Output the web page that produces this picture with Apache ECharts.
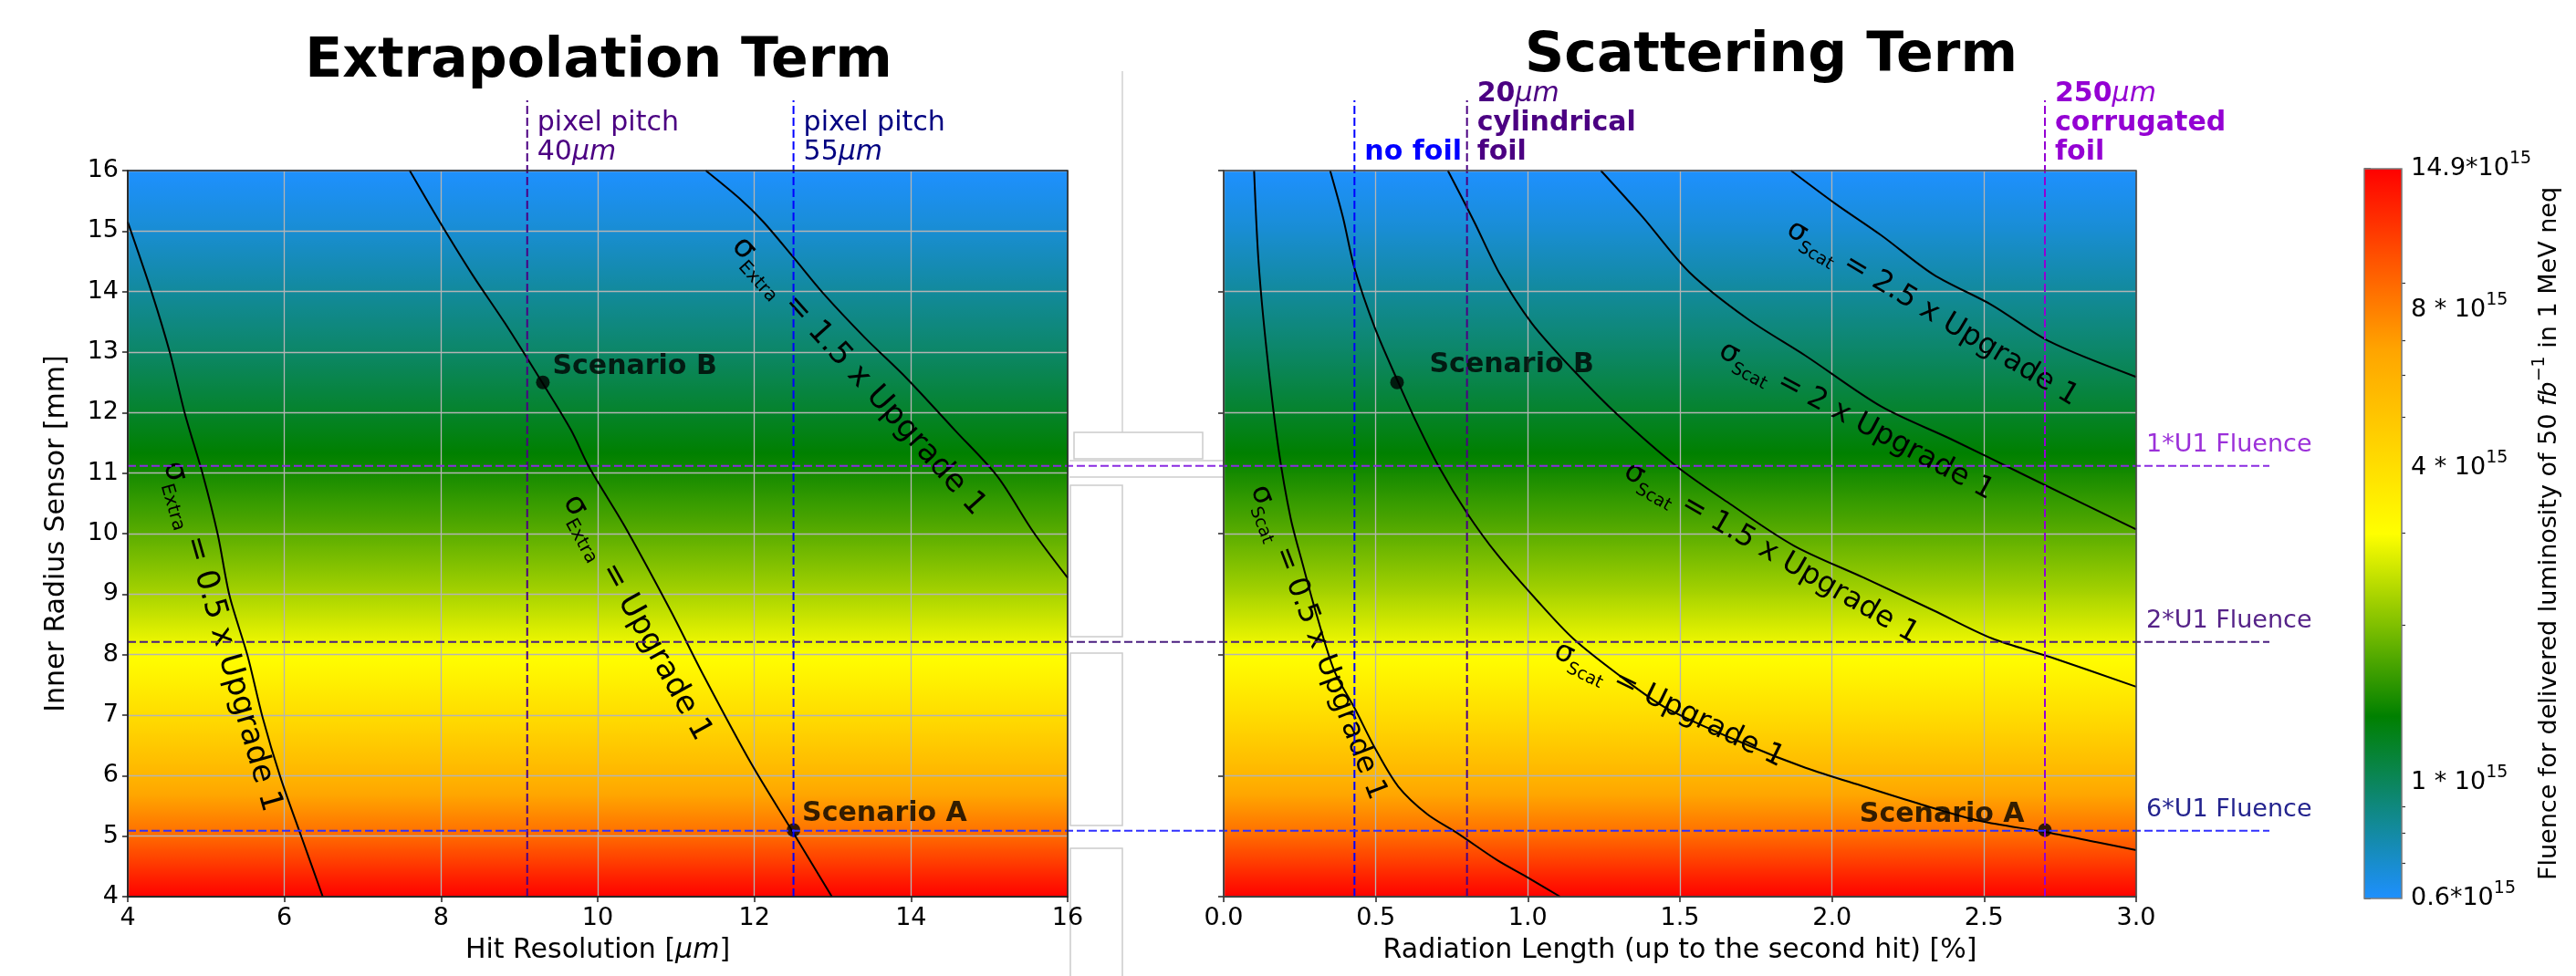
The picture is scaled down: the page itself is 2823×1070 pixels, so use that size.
<!DOCTYPE html>
<html><head><meta charset="utf-8">
<script src="https://cdn.jsdelivr.net/npm/echarts@6/dist/echarts.min.js"></script>
<style>html,body{margin:0;padding:0;background:#fff}#c{width:2823px;height:1070px}</style>
</head><body><div id="c"></div>
<script>
// ---------------- data ----------------
// fluence (x10^15 neq) seen as background colour, versus inner radius [mm]
const bgRadius  = [4, 5, 6, 7, 8, 9, 10, 11, 12, 13, 14, 15, 16];
const bgFluence = [14.9, 8.9, 5.8, 4.07, 2.98, 2.27, 1.78, 1.43, 1.17, 0.97, 0.82, 0.69, 0.6];

// Extrapolation term contours  [hit resolution um, radius mm]
const extraHalf = [[4.0,15.15],[4.31,13.97],[4.54,12.98],[4.73,11.98],[4.96,10.97],[5.15,9.98],[5.30,8.97],[5.53,7.98],[5.72,6.97],[5.95,5.97],[6.22,4.98],[6.49,4.0]];
const extraOne  = [[7.60,16.0],[7.98,15.16],[8.40,14.28],[8.82,13.47],[9.30,12.48],[9.66,11.71],[9.89,11.10],[10.35,10.11],[10.93,8.73],[11.35,7.66],[11.96,6.20],[12.49,5.07],[12.99,4.0]];
const extraOneHalf = [[11.38,16.0],[11.81,15.54],[12.11,15.16],[12.49,14.58],[12.88,13.97],[13.41,13.24],[13.95,12.56],[14.56,11.71],[15.10,10.95],[15.56,10.03],[16.0,9.27]];

// Scattering term contours [radiation length %, radius mm]
const scatHalf = [[0.10,16.0],[0.115,14.47],[0.143,12.94],[0.18,11.41],[0.22,10.26],[0.26,9.49],[0.306,8.65],[0.364,7.73],[0.43,7.12],[0.50,6.43],[0.574,5.82],[0.67,5.36],[0.765,5.06],[0.90,4.6],[0.995,4.33],[1.106,4.0]];
const scatOne = [[0.35,16.0],[0.392,15.23],[0.43,14.39],[0.497,13.4],[0.574,12.5],[0.631,11.87],[0.708,11.1],[0.80,10.34],[0.90,9.65],[1.033,8.88],[1.148,8.27],[1.30,7.66],[1.454,7.12],[1.72,6.51],[1.913,6.13],[2.105,5.82],[2.296,5.52],[2.487,5.25],[2.698,5.07],[2.87,4.9],[3.0,4.77]];
const scatOneHalf = [[0.737,16.0],[0.823,15.16],[0.909,14.28],[1.014,13.47],[1.148,12.71],[1.30,11.94],[1.492,11.1],[1.665,10.49],[1.875,9.8],[2.105,9.27],[2.334,8.73],[2.525,8.27],[2.717,7.96],[3.0,7.47]];
const scatTwo = [[1.24,16.0],[1.378,15.23],[1.531,14.32],[1.722,13.55],[1.913,12.94],[2.162,12.1],[2.392,11.56],[2.64,10.95],[3.0,10.07]];
const scatTwoHalf = [[1.865,16.0],[2.009,15.46],[2.162,14.93],[2.334,14.28],[2.525,13.78],[2.717,13.17],[3.0,12.59]];

// contour label anchors [x, y, angle deg]
const extraLabelPos  = [[5.20,8.30,-74],[10.50,8.61,-61],[13.33,12.60,-48]];
const extraLabelText = ['0.5 x Upgrade 1','Upgrade 1','1.5 x Upgrade 1'];
const scatLabelPos   = [[0.31,8.20,-69],[1.464,7.17,-26],[1.80,9.68,-30],[2.08,11.86,-28],[2.33,13.64,-31]];
const scatLabelText  = ['0.5 x Upgrade 1','Upgrade 1','1.5 x Upgrade 1','2 x Upgrade 1','2.5 x Upgrade 1'];

// scenarios
const scenarioNames = ['Scenario B','Scenario A'];
const scenExtra = [[9.3,12.5],[12.5,5.1]];
const scenScat  = [[0.57,12.5],[2.7,5.1]];

// reference lines
const fluenceLevels = [11.12, 8.21, 5.09];
const fluenceLabels = ['1*U1 Fluence','2*U1 Fluence','6*U1 Fluence'];
const pitchX = [9.1, 12.5];
const pitchLabels = [['pixel pitch','40{i|μm}'],['pixel pitch','55{i|μm}']];
const foilX = [0.43, 0.80, 2.7];
const foilLabels = [['{b|no foil}'],['{b|20}{i|μm}','{b|cylindrical}','{b|foil}'],['{b|250}{i|μm}','{b|corrugated}','{b|foil}']];

// colour bar
const cbMin = 0.6, cbMax = 14.9;
const cbTicks = [0.6, 1, 4, 8, 14.9];
const cbTickLabels = ['0.6*10','1 * 10','4 * 10','8 * 10','14.9*10'];
const cbMinor = [0.7, 0.8, 0.9, 2, 3, 5, 6, 7, 9];

const xTicksExtra = {min:4, max:16, interval:2};
const yTicks = {min:4, max:16};

// ---------------- styling ----------------
const FONT = 'DejaVu Sans';
const C_PURPLE = '#9400D3', C_INDIGO = '#4B0082', C_BLUE = '#0000FF', C_NAVY = '#000080';
const fluenceLineColors = ['#8A2BE2', '#4B1F80', '#3030FF'];
const fluenceTextColors = ['#9B30D9', '#552288', '#23238E'];
const pitchLineColors = [C_INDIGO, C_BLUE];
const pitchTextColors = [C_INDIGO, C_NAVY];
const foilColors = [C_BLUE, C_INDIGO, C_PURPLE];
const V_TOP = 110, LABEL_LAST = 167, LABEL_STEP = 32, H_END = 2487, H_TEXT_X = 2352;

const cmapStops = [[0,[30,144,255]],[0.25,[0,128,0]],[0.5,[255,255,0]],[0.75,[255,165,0]],[1,[255,0,0]]];
const LMIN = Math.log(cbMin), LMAX = Math.log(cbMax);
function cmap(t){
  t = Math.max(0, Math.min(1, t));
  for (let i = 1; i < cmapStops.length; i++) {
    if (t <= cmapStops[i][0] + 1e-12) {
      const a = cmapStops[i-1], b = cmapStops[i];
      const u = (t - a[0]) / (b[0] - a[0]);
      const c = a[1].map((v,k) => Math.round(v + (b[1][k] - v) * u));
      return 'rgb(' + c.join(',') + ')';
    }
  }
  return 'rgb(255,0,0)';
}
const fluColor = lf => cmap((lf - LMIN) / (LMAX - LMIN));

function bgData(xMin){
  return bgRadius.slice(0,-1).map((r,i) => [xMin, r, bgRadius[i+1], bgFluence[i], bgFluence[i+1]]);
}
function bgRender(xMin, xMax){
  return function(params, api){
    const r0 = api.value(1), r1 = api.value(2), f0 = api.value(3), f1 = api.value(4);
    const pT = api.coord([xMin, r1]), pB = api.coord([xMax, r0]);
    const stops = [], N = 12;
    for (let k = 0; k <= N; k++) {
      const t = k / N;
      const lf = Math.log(f1) + (Math.log(f0) - Math.log(f1)) * t;
      stops.push({offset: t, color: fluColor(lf)});
    }
    return {type:'rect', silent:true,
      shape:{x:pT[0], y:pT[1]-0.6, width:pB[0]-pT[0], height:pB[1]-pT[1]+1.2},
      style:{fill:new echarts.graphic.LinearGradient(0,0,0,1,stops)}};
  };
}
function frameRender(x0,x1,y0,y1,color){
  return function(params, api){
    const a = api.coord([x0,y1]), b = api.coord([x1,y0]);
    return {type:'rect', silent:true, shape:{x:a[0], y:a[1], width:b[0]-a[0], height:b[1]-a[1]},
      style:{fill:'none', stroke:color, lineWidth:1.5}};
  };
}
function contourRich(fs){
  const sub = Math.round(fs * 0.6), lh = Math.round(fs * 1.35);
  return {
    s:{fontSize:fs, fontFamily:FONT, lineHeight:lh, verticalAlign:'middle', color:'#000'},
    u:{fontSize:sub, fontFamily:FONT, lineHeight:sub + 2, verticalAlign:'bottom', color:'#000'},
    m:{fontSize:fs, fontFamily:FONT, lineHeight:lh, verticalAlign:'middle', color:'#000'}
  };
}
function labelRender(sub, texts, fs){
  const rich = contourRich(fs);
  return function(params, api){
    const p = api.coord([api.value(0), api.value(1)]);
    return {type:'text', x:p[0], y:p[1], rotation: api.value(2) * Math.PI / 180, silent:true,
      style:{text:'{s|σ}{u|' + sub + '}{m| = ' + texts[params.dataIndex] + '}', rich:rich,
        align:'center', verticalAlign:'middle', textAlign:'center', textVerticalAlign:'middle', fill:'#000'}};
  };
}
function lineSeries(data, gi){
  return {type:'line', xAxisIndex:gi, yAxisIndex:gi, data:data, showSymbol:false, symbol:'none',
    smooth:0.3, lineStyle:{color:'#000', width:2}, z:5, silent:true};
}
function vlineRender(lines, lineColors, textColors, richFn){
  return function(params, api){
    const i = params.dataIndex;
    const pb = api.coord([api.value(0), api.value(1)]);
    const ch = [{type:'line', shape:{x1:pb[0], y1:pb[1], x2:pb[0], y2:V_TOP},
      style:{stroke:lineColors[i], lineWidth:2, lineDash:[9,4]}}];
    const L = lines[i];
    L.forEach((t,k) => ch.push({type:'text', x:pb[0]+11, y:LABEL_LAST - (L.length-1-k)*LABEL_STEP,
      style:{text:t, rich:richFn(textColors[i]), fill:textColors[i], font:'30px "' + FONT + '"',
        align:'left', verticalAlign:'middle', textAlign:'left', textVerticalAlign:'middle'}}));
    return {type:'group', children:ch, silent:true};
  };
}
function richFor(color){
  return {
    b:{fontSize:30, fontWeight:'bold', fontFamily:FONT, color:color, lineHeight:32},
    i:{fontSize:30, fontStyle:'italic', fontFamily:FONT, color:color, lineHeight:32}
  };
}
function scenData(pts, cfg){
  return pts.map((p,i) => ({value:p, name:scenarioNames[i],
    label:{show:true, position:cfg[i].pos, distance:cfg[i].dist, offset:[0,cfg[i].dy], formatter:'{b}',
      fontSize:30, fontWeight:'bold', color:'#000', fontFamily:FONT}}));
}

const axisCommon = {
  axisLine:{show:true, lineStyle:{color:'#222', width:1.5}},
  axisTick:{show:true, inside:false, length:6, lineStyle:{color:'#222', width:1.5}},
  splitLine:{show:true, lineStyle:{color:'#b4b4b4', width:1.3}},
  nameTextStyle:{fontSize:30, fontFamily:FONT, color:'#000', rich:{i:{fontSize:30, fontStyle:'italic', fontFamily:FONT, color:'#000'}}},
  z:3
};
const labelCommon = {fontSize:27, fontFamily:FONT, color:'#000', margin:10};

const chart = echarts.init(document.getElementById('c'), null, {renderer:'canvas', width:2823, height:1070});
const log10 = Math.log10;

const option = {
  animation:false,
  backgroundColor:'#ffffff',
  textStyle:{fontFamily:FONT},
  grid:[
    {left:140, top:187, width:1030, height:796},
    {left:1341, top:187, width:1000, height:796},
    {left:2591, top:185, width:41, height:800}
  ],
  xAxis:[
    Object.assign({}, axisCommon, {gridIndex:0, type:'value', min:xTicksExtra.min, max:xTicksExtra.max, interval:xTicksExtra.interval,
      name:'Hit Resolution [{i|μm}]', nameLocation:'middle', nameGap:44,
      axisLabel:Object.assign({}, labelCommon)}),
    Object.assign({}, axisCommon, {gridIndex:1, type:'value', min:0, max:3, interval:0.5,
      name:'Radiation Length (up to the second hit) [%]', nameLocation:'middle', nameGap:44,
      axisLabel:Object.assign({}, labelCommon, {formatter: v => v.toFixed(1)})}),
    {gridIndex:2, type:'value', min:0, max:1, show:false}
  ],
  yAxis:[
    Object.assign({}, axisCommon, {gridIndex:0, type:'value', min:yTicks.min, max:yTicks.max, interval:1,
      name:'Inner Radius Sensor [mm]', nameLocation:'middle', nameGap:63, nameRotate:90,
      axisLabel:Object.assign({}, labelCommon)}),
    Object.assign({}, axisCommon, {gridIndex:1, type:'value', min:yTicks.min, max:yTicks.max, interval:2,
      axisLabel:{show:false}}),
    {gridIndex:2, type:'value', position:'right', min:log10(cbMin), max:log10(cbMax),
      axisLine:{show:false}, splitLine:{show:false},
      axisTick:{show:true, length:7, customValues:cbTicks.map(log10), lineStyle:{color:'#333', width:1.5}},
      axisLabel:{show:true, margin:10, customValues:cbTicks.map(log10),
        formatter: v => { const i = cbTicks.findIndex(t => Math.abs(log10(t) - v) < 1e-4); return i < 0 ? '' : '{b|' + cbTickLabels[i] + '}{p|15}'; },
        rich:{b:{fontSize:27, fontFamily:FONT, color:'#000', lineHeight:40, verticalAlign:'middle'},
              p:{fontSize:19, fontFamily:FONT, color:'#000', lineHeight:22, verticalAlign:'top'}}}},
    {gridIndex:2, type:'value', position:'right', min:log10(cbMin), max:log10(cbMax),
      axisLine:{show:false}, splitLine:{show:false}, axisLabel:{show:false},
      axisTick:{show:true, length:4, customValues:cbMinor.map(log10), lineStyle:{color:'#333', width:1.2}}}
  ],
  series:[
    {type:'custom', xAxisIndex:0, yAxisIndex:0, z:1, silent:true, data:bgData(4), renderItem:bgRender(4,16)},
    {type:'custom', xAxisIndex:1, yAxisIndex:1, z:1, silent:true, data:bgData(0), renderItem:bgRender(0,3)},
    {type:'custom', xAxisIndex:2, yAxisIndex:2, z:1, silent:true, data:[[0, log10(cbMin)]],
      renderItem:function(params, api){
        const a = api.coord([0, log10(cbMax)]), b = api.coord([1, log10(cbMin)]);
        const stops = [];
        for (let k = 0; k <= 40; k++) stops.push({offset:k/40, color:cmap(1 - k/40)});
        return {type:'rect', shape:{x:a[0], y:a[1], width:b[0]-a[0], height:b[1]-a[1]},
          style:{fill:new echarts.graphic.LinearGradient(0,0,0,1,stops), stroke:'#7a7a7a', lineWidth:1.5}};
      }},
    lineSeries(extraHalf,0), lineSeries(extraOne,0), lineSeries(extraOneHalf,0),
    lineSeries(scatHalf,1), lineSeries(scatOne,1), lineSeries(scatOneHalf,1), lineSeries(scatTwo,1), lineSeries(scatTwoHalf,1),
    {type:'custom', xAxisIndex:0, yAxisIndex:0, z:6, silent:true, data:extraLabelPos, renderItem:labelRender('Extra', extraLabelText, 34)},
    {type:'custom', xAxisIndex:1, yAxisIndex:1, z:6, silent:true, data:scatLabelPos, renderItem:labelRender('Scat', scatLabelText, 32)},
    {type:'scatter', xAxisIndex:0, yAxisIndex:0, z:7, symbolSize:15, itemStyle:{color:'#000'}, silent:true,
      data:scenData(scenExtra, [{pos:'right',dist:3,dy:-17},{pos:'right',dist:2,dy:-18}])},
    {type:'scatter', xAxisIndex:1, yAxisIndex:1, z:7, symbolSize:15, itemStyle:{color:'#000'}, silent:true,
      data:scenData(scenScat, [{pos:'right',dist:28,dy:-19},{pos:'left',dist:15,dy:-17}])},
    {type:'custom', xAxisIndex:0, yAxisIndex:0, z:8, silent:true, clip:false,
      data:pitchX.map(x => [x, 4]),
      renderItem:vlineRender(pitchLabels, pitchLineColors, pitchTextColors,
        c => ({i:{fontStyle:'italic', fontSize:30, fontFamily:FONT, color:c}}))},
    {type:'custom', xAxisIndex:1, yAxisIndex:1, z:8, silent:true, clip:false,
      data:foilX.map(x => [x, 4]),
      renderItem:vlineRender(foilLabels, foilColors, foilColors, richFor)},
    {type:'custom', xAxisIndex:0, yAxisIndex:0, z:8, silent:true, clip:false,
      data:fluenceLevels.map(y => [4, y]),
      renderItem:function(params, api){
        const i = params.dataIndex;
        const p = api.coord([api.value(0), api.value(1)]);
        return {type:'group', silent:true, children:[
          {type:'line', shape:{x1:p[0], y1:p[1], x2:H_END, y2:p[1]}, style:{stroke:fluenceLineColors[i], lineWidth:2, lineDash:[9,4]}},
          {type:'text', x:H_TEXT_X, y:p[1]-23, style:{text:fluenceLabels[i], fill:fluenceTextColors[i], font:'27px "' + FONT + '"',
            align:'left', verticalAlign:'middle', textAlign:'left', textVerticalAlign:'middle'}}
        ]};
      }},
    {type:'custom', xAxisIndex:0, yAxisIndex:0, z:10, silent:true, data:[[4,4]], renderItem:frameRender(4,16,4,16,'#222')},
    {type:'custom', xAxisIndex:1, yAxisIndex:1, z:10, silent:true, data:[[0,4]], renderItem:frameRender(0,3,4,16,'#444')}
  ],
  graphic:[
    {type:'text', x:656, y:68, silent:true, style:{text:'Extrapolation Term', font:'bold 60px "DejaVu Sans"', fill:'#000',
      align:'center', verticalAlign:'middle', textAlign:'center', textVerticalAlign:'middle'}},
    {type:'text', x:1941, y:62, silent:true, style:{text:'Scattering Term', font:'bold 60px "DejaVu Sans"', fill:'#000',
      align:'center', verticalAlign:'middle', textAlign:'center', textVerticalAlign:'middle'}},
    {type:'text', x:2794, y:585, rotation:Math.PI/2, silent:true, style:{
      text:'{n|Fluence for delivered luminosity of 50 }{i|fb}{p|−1}{n| in 1 MeV neq}',
      rich:{n:{fontSize:27, fontFamily:FONT, color:'#000', lineHeight:40, verticalAlign:'middle'},
            i:{fontSize:27, fontFamily:FONT, fontStyle:'italic', color:'#000', lineHeight:40, verticalAlign:'middle'},
            p:{fontSize:19, fontFamily:FONT, color:'#000', lineHeight:22, verticalAlign:'top'}},
      align:'center', verticalAlign:'middle', textAlign:'center', textVerticalAlign:'middle'}},
    // faint frames in the gap between the panels
    {type:'line', silent:true, shape:{x1:1230, y1:78, x2:1230, y2:474}, style:{stroke:'#d0d0d0', lineWidth:1.5}},
    {type:'rect', silent:true, shape:{x:1177, y:474, width:141, height:29}, style:{fill:'none', stroke:'#cccccc', lineWidth:1.5}},
    {type:'line', silent:true, shape:{x1:1172, y1:505, x2:1342, y2:505}, style:{stroke:'#cccccc', lineWidth:1.5}},
    {type:'line', silent:true, shape:{x1:1172, y1:523, x2:1342, y2:523}, style:{stroke:'#cccccc', lineWidth:1.5}},
    {type:'rect', silent:true, shape:{x:1173, y:532, width:57, height:166}, style:{fill:'none', stroke:'#cccccc', lineWidth:1.5}},
    {type:'rect', silent:true, shape:{x:1173, y:716, width:57, height:189}, style:{fill:'none', stroke:'#cccccc', lineWidth:1.5}},
    {type:'rect', silent:true, shape:{x:1173, y:930, width:57, height:150}, style:{fill:'none', stroke:'#cccccc', lineWidth:1.5}}
  ]
};
chart.setOption(option);
</script>
</body></html>
